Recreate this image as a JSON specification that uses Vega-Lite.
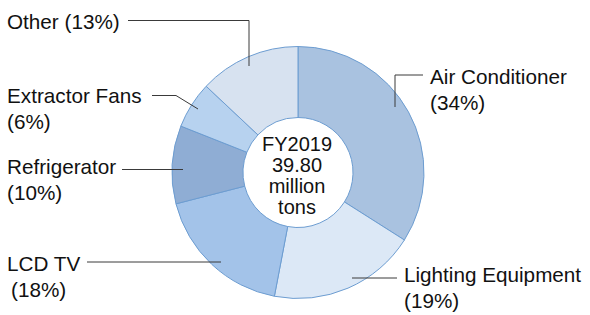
{
  "$schema": "https://vega.github.io/schema/vega-lite/v6.json",
  "width": 590,
  "height": 315,
  "autosize": {"type": "fit", "contains": "padding"},
  "padding": 0,
  "background": "white",
  "config": {"view": {"stroke": null}},
  "datasets": {
    "shares": [
      {"category": "Air Conditioner", "share": 34, "rank": 1},
      {"category": "Lighting Equipment", "share": 19, "rank": 2},
      {"category": "LCD TV", "share": 18, "rank": 3},
      {"category": "Refrigerator", "share": 10, "rank": 4},
      {"category": "Extractor Fans", "share": 6, "rank": 5},
      {"category": "Other", "share": 13, "rank": 6}
    ],
    "leaders": [
      {"x": 128, "y": 20.5, "x2": 249, "y2": 20.5},
      {"x": 249, "y": 20.5, "x2": 249, "y2": 66},
      {"x": 152, "y": 95.5, "x2": 176, "y2": 95.5},
      {"x": 176, "y": 95.5, "x2": 198, "y2": 109},
      {"x": 122, "y": 169.5, "x2": 183, "y2": 169.5},
      {"x": 87, "y": 262, "x2": 221, "y2": 262},
      {"x": 352, "y": 278, "x2": 397, "y2": 278},
      {"x": 395, "y": 75, "x2": 423, "y2": 75},
      {"x": 395, "y": 75, "x2": 395, "y2": 107}
    ],
    "labels": [
      {"text": "Other (13%)", "x": 7, "y": 29},
      {"text": "Extractor Fans", "x": 7, "y": 103},
      {"text": "(6%)", "x": 7, "y": 128.5},
      {"text": "Refrigerator", "x": 7, "y": 174},
      {"text": "(10%)", "x": 7, "y": 199.5},
      {"text": "LCD TV", "x": 7, "y": 271},
      {"text": "(18%)", "x": 11, "y": 296.5},
      {"text": "Air Conditioner", "x": 430, "y": 84},
      {"text": "(34%)", "x": 430, "y": 109.5},
      {"text": "Lighting Equipment", "x": 404, "y": 282},
      {"text": "(19%)", "x": 404, "y": 307.5}
    ],
    "center": [
      {"text": "FY2019", "x": 297, "y": 151},
      {"text": "39.80", "x": 297, "y": 172},
      {"text": "million", "x": 297, "y": 193},
      {"text": "tons", "x": 297, "y": 214}
    ]
  },
  "layer": [
    {
      "data": {"name": "shares"},
      "mark": {"type": "arc", "innerRadius": 55, "outerRadius": 126, "stroke": "#6d9dd1", "strokeWidth": 1},
      "encoding": {
        "x": {"datum": 298, "type": "quantitative", "scale": {"domain": [0, 590], "nice": false, "zero": false}, "axis": null},
        "y": {"datum": 172.5, "type": "quantitative", "scale": {"domain": [0, 315], "nice": false, "zero": false, "reverse": true}, "axis": null},
        "theta": {"field": "share", "type": "quantitative", "stack": true},
        "order": {"field": "rank", "type": "quantitative"},
        "color": {
          "field": "category",
          "type": "nominal",
          "scale": {
            "domain": ["Air Conditioner", "Lighting Equipment", "LCD TV", "Refrigerator", "Extractor Fans", "Other"],
            "range": ["#a9c2e0", "#dce8f6", "#a3c3e9", "#8fadd4", "#b7d2ef", "#d7e2f0"]
          },
          "legend": null
        }
      }
    },
    {
      "data": {"name": "leaders"},
      "mark": {"type": "rule", "color": "#3a3a3a", "strokeWidth": 1},
      "encoding": {
        "x": {"field": "x", "type": "quantitative", "scale": {"domain": [0, 590], "nice": false, "zero": false}, "axis": null},
        "y": {"field": "y", "type": "quantitative", "scale": {"domain": [0, 315], "nice": false, "zero": false, "reverse": true}, "axis": null},
        "x2": {"field": "x2"},
        "y2": {"field": "y2"}
      }
    },
    {
      "data": {"name": "labels"},
      "mark": {"type": "text", "align": "left", "baseline": "alphabetic", "font": "Liberation Sans", "fontSize": 20.7, "color": "#111111"},
      "encoding": {
        "x": {"field": "x", "type": "quantitative", "scale": {"domain": [0, 590], "nice": false, "zero": false}, "axis": null},
        "y": {"field": "y", "type": "quantitative", "scale": {"domain": [0, 315], "nice": false, "zero": false, "reverse": true}, "axis": null},
        "text": {"field": "text"}
      }
    },
    {
      "data": {"name": "center"},
      "mark": {"type": "text", "align": "center", "baseline": "alphabetic", "font": "Liberation Sans", "fontSize": 20, "color": "#111111"},
      "encoding": {
        "x": {"field": "x", "type": "quantitative", "scale": {"domain": [0, 590], "nice": false, "zero": false}, "axis": null},
        "y": {"field": "y", "type": "quantitative", "scale": {"domain": [0, 315], "nice": false, "zero": false, "reverse": true}, "axis": null},
        "text": {"field": "text"}
      }
    }
  ]
}
